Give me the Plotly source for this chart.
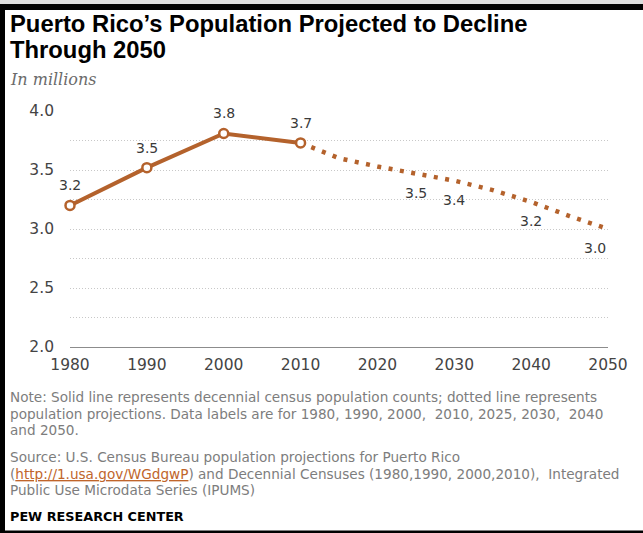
import plotly.graph_objects as go

# Puerto Rico population, in millions
census_years = [1980, 1990, 2000, 2010]
census_pop = [3.20, 3.52, 3.81, 3.73]

proj_years = [2010, 2015, 2020, 2025, 2030, 2035, 2040, 2045, 2050]
proj_pop = [3.73, 3.60, 3.53, 3.47, 3.41, 3.33, 3.23, 3.11, 3.00]

# Projection years that carry a data label
proj_label_years = [2025, 2030, 2040, 2050]

x_ticks = [1980, 1990, 2000, 2010, 2020, 2030, 2040, 2050]
y_ticks = [2.0, 2.5, 3.0, 3.5, 4.0]

title_lines = ["Puerto Rico\u2019s Population Projected to Decline", "Through 2050"]
subtitle = "In millions"
note_lines = [
    "Note: Solid line represents decennial census population counts; dotted line represents",
    "population projections. Data labels are for 1980, 1990, 2000,  2010, 2025, 2030,  2040",
    "and 2050.",
]
source_lines = [
    "Source: U.S. Census Bureau population projections for Puerto Rico",
    "(<span style='color:#c0652b'><u>http://1.usa.gov/WGdgwP</u></span>) and Decennial Censuses "
    "(1980,1990, 2000,2010),  Integrated",
    "Public Use Microdata Series (IPUMS)",
]
credit = "PEW RESEARCH CENTER"

BROWN = "#b4622c"
W, H = 643, 533
ML, MR, MT, MB = 70, 35, 111, 186
PW, PH = W - ML - MR, H - MT - MB


def px(x):
    """Pixel column -> paper x."""
    return (x - ML) / PW


def py(y):
    """Pixel row -> paper y."""
    return (H - MB - y) / PH


fig = go.Figure()

fig.add_trace(go.Scatter(
    x=proj_years, y=proj_pop, mode="lines",
    line=dict(color=BROWN, width=4.5, dash="4px,7.5px"),
    hoverinfo="skip", showlegend=False, cliponaxis=False,
))
fig.add_trace(go.Scatter(
    x=census_years, y=census_pop, mode="lines+markers",
    line=dict(color=BROWN, width=4),
    marker=dict(symbol="circle", size=9, color="white",
                line=dict(color=BROWN, width=2.5)),
    hoverinfo="skip", showlegend=False, cliponaxis=False,
))

annotations = []
label_font = dict(family="DejaVu Sans", size=14, color="#3a3a3a")
for yr, v in zip(census_years, census_pop):
    annotations.append(dict(x=yr, y=v, xref="x", yref="y", text=f"{v:.1f}",
                            showarrow=False, yshift=20, font=label_font))
for yr, v in zip(proj_years, proj_pop):
    if yr in proj_label_years:
        last = yr == proj_years[-1]
        annotations.append(dict(x=yr, y=v, xref="x", yref="y", text=f"{v:.1f}",
                                showarrow=False, yshift=-19,
                                xanchor="right" if last else "center",
                                font=label_font))

for i, line in enumerate(title_lines):
    annotations.append(dict(x=px(8), y=py(23 + i * 26), xref="paper", yref="paper",
                            xanchor="left", yanchor="middle", showarrow=False,
                            text=f"<b>{line}</b>",
                            font=dict(family="Liberation Sans", size=23.8, color="#000")))
annotations.append(dict(x=px(8), y=py(80), xref="paper", yref="paper",
                        xanchor="left", yanchor="middle", showarrow=False,
                        text=f"<i>{subtitle}</i>",
                        font=dict(family="DejaVu Serif", size=16, color="#6b6b6b")))
note_font = dict(family="DejaVu Sans", size=13.6, color="#7d7d7d")
for i, line in enumerate(note_lines):
    annotations.append(dict(x=px(8), y=py(397 + i * 16.7), xref="paper", yref="paper",
                            xanchor="left", yanchor="middle", showarrow=False,
                            text=line, font=note_font))
for i, line in enumerate(source_lines):
    annotations.append(dict(x=px(8), y=py(457 + i * 16.7), xref="paper", yref="paper",
                            xanchor="left", yanchor="middle", showarrow=False,
                            text=line, font=note_font))
annotations.append(dict(x=px(8), y=py(516), xref="paper", yref="paper",
                        xanchor="left", yanchor="middle", showarrow=False,
                        text=f"<b>{credit}</b>",
                        font=dict(family="DejaVu Sans", size=12.8, color="#000")))

# Page frame: grey strip and black rule on top, black rule on left and bottom
shapes = [
    dict(type="rect", xref="paper", yref="paper", x0=px(0), x1=px(W), y0=py(0), y1=py(4),
         fillcolor="#dcdcdc", line=dict(width=0), layer="above"),
    dict(type="rect", xref="paper", yref="paper", x0=px(0), x1=px(W), y0=py(4), y1=py(10),
         fillcolor="#000", line=dict(width=0), layer="above"),
    dict(type="rect", xref="paper", yref="paper", x0=px(0), x1=px(5), y0=py(4), y1=py(H),
         fillcolor="#000", line=dict(width=0), layer="above"),
    dict(type="rect", xref="paper", yref="paper", x0=px(0), x1=px(W), y0=py(530.5), y1=py(H),
         fillcolor="#000", line=dict(width=0), layer="above"),
]

tick_font = dict(family="DejaVu Sans", size=15.5, color="#444444")
fig.update_layout(
    width=W, height=H,
    margin=dict(l=ML, r=MR, t=MT, b=MB),
    paper_bgcolor="white", plot_bgcolor="white",
    annotations=annotations, shapes=shapes,
    xaxis=dict(range=[1980, 2050], tickvals=x_ticks, ticktext=[str(t) for t in x_ticks],
               showgrid=False, zeroline=False, showline=True, linecolor="#8c8c8c",
               linewidth=1, ticks="", ticklabelstandoff=3, tickfont=tick_font),
    yaxis=dict(range=[2, 4.0005], tickvals=y_ticks, ticktext=[f"{t:.1f}" for t in y_ticks],
               showgrid=True, gridcolor="#c8c8c8", gridwidth=1, griddash="1px,2px",
               minor=dict(dtick=0.25, tick0=2, showgrid=True, gridcolor="#c8c8c8",
                          gridwidth=1, griddash="1px,2px"),
               zeroline=False, showline=False, ticks="", ticklabelstandoff=15,
               tickfont=tick_font),
)

fig.write_html("out.html")
